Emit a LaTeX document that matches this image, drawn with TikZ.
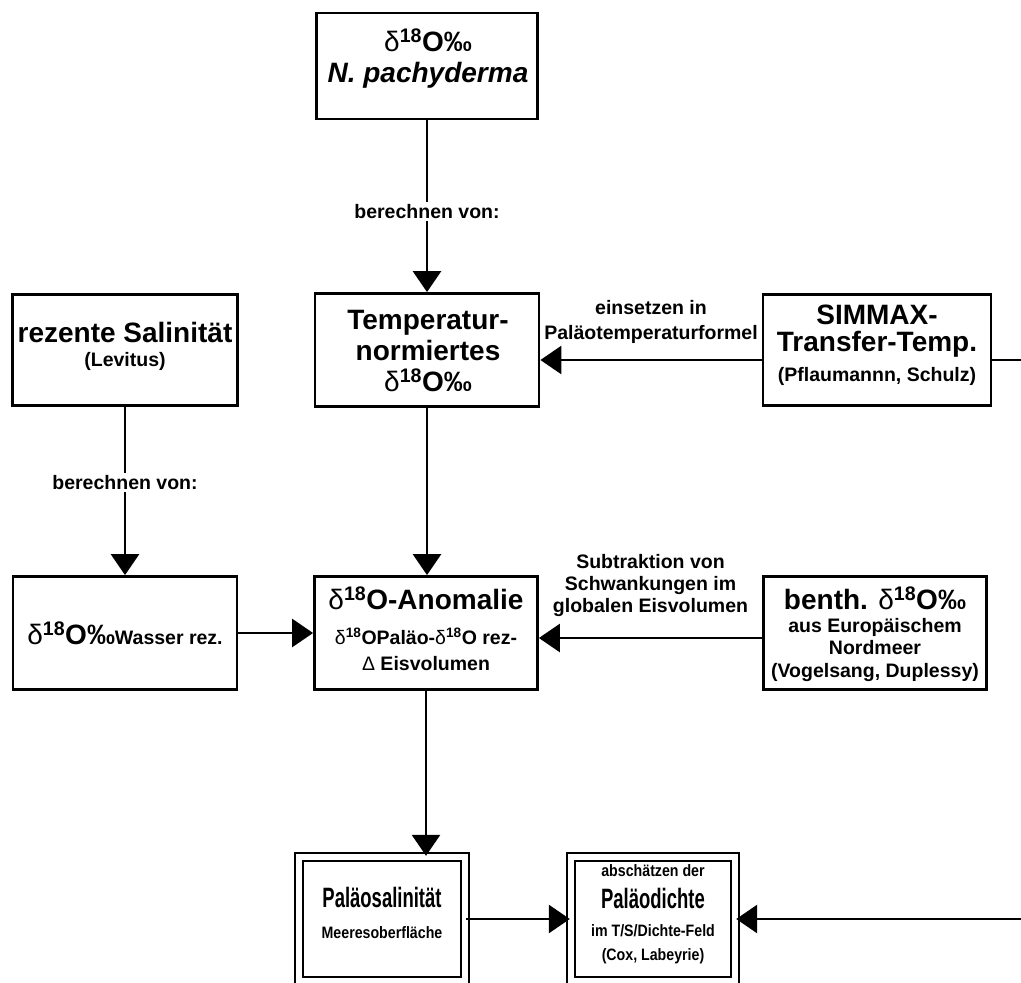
\documentclass[tikz,border=0pt]{standalone}
\usepackage{fontspec}
\setmainfont{Liberation Sans}
\newfontfamily\narrowfont{Liberation Sans}[FakeStretch=0.66]
\newfontfamily\semifont{Liberation Sans}[FakeStretch=0.86]
\usetikzlibrary{arrows.meta}

\newcommand{\titlesize}{\fontsize{28}{31}\selectfont}
\newcommand{\smallsize}{\fontsize{19.5}{22}\selectfont}
\newcommand{\deltaO}{{\mdseries δ}\textsuperscript{18}O}

\begin{document}
\begin{tikzpicture}[x=1pt, y=-1pt,
  box/.style={draw, line width=2.8pt, inner sep=0pt},
  dbox/.style={draw, line width=2.4pt, double, double distance=5.6pt, inner sep=0pt},
  txt/.style={align=center, font=\titlesize\bfseries, inner sep=0pt},
  lbl/.style={fill=white, font=\smallsize\bfseries, inner sep=2pt},
  lblm/.style={align=center, font=\smallsize\bfseries, inner sep=0pt},
  arr/.style={line width=2.8pt, -{Triangle[length=21pt, width=28pt]}},
  ]

\useasboundingbox (0,0) rectangle (1021,983);

% boxes
{
\node[box, minimum width=221pt, minimum height=106pt] (pach) at (427,66) {};
\node[box, minimum width=224pt, minimum height=113pt] (temp) at (427,350) {};
\node[box, minimum width=225pt, minimum height=111pt] (rez) at (125,350) {};
\node[box, minimum width=228pt, minimum height=111pt] (simmax) at (877,350) {};
\node[box, minimum width=224pt, minimum height=113pt] (wasser) at (125,633) {};
\node[box, minimum width=223pt, minimum height=113pt] (anom) at (426,633) {};
\node[box, minimum width=223pt, minimum height=113pt] (benth) at (875,633) {};

\node[dbox, minimum width=166pt, minimum height=124pt] (sal) at (382,919) {};
\node[dbox, minimum width=164pt, minimum height=124pt] (dichte) at (653,919) {};
}

% texts
{
\node[txt] (pach-t) at (428,59) {\deltaO‰\\ \textit{N. pachyderma}};
\node[txt] (temp-t) at (428,351) {Temperatur-\\normiertes\\ \deltaO‰};
\node[txt] (rez-t) at (125,346) {rezente Salinität\\[-7pt]{\smallsize (Levitus)}};
\node[txt] (simmax-t) at (877,345) {SIMMAX-\\[-4pt]Transfer-Temp.\\[-1pt]{\smallsize (Pflaumannn, Schulz)}};
\node[txt] (wasser-t) at (125,633) {\deltaO‰{\smallsize Wasser rez.}};
\node[txt] (anom-t) at (426,629) {\deltaO-Anomalie\\[4pt]{\smallsize \deltaO Paläo-\deltaO\ rez-}\\[-5pt]{\smallsize{\mdseries Δ} Eisvolumen}};
\node[txt] (benth-t) at (875,634) {benth. \deltaO‰\\[-8pt]{\smallsize aus Europäischem}\\[-9pt]{\smallsize Nordmeer}\\[-8pt]{\smallsize (Vogelsang, Duplessy)}};

\node[txt] (sal-t) at (382,913) {{\narrowfont Paläosalinität}\\[0pt]{\semifont\fontsize{16.5}{19}\selectfont Meeresoberfläche}};
\node[txt] (dichte-t) at (653,914) {{\semifont\fontsize{16.5}{19}\selectfont abschätzen der}\\[1pt]{\narrowfont Paläodichte}\\[-3pt]{\semifont\fontsize{16.5}{19}\selectfont im T/S/Dichte-Feld}\\[-7pt]{\semifont\fontsize{16.5}{19}\selectfont (Cox, Labeyrie)}};
}

% free ends at the right margin
\coordinate (simout) at (1021,360);
\coordinate (dichtein) at (1021,919);

% connectors
\draw[arr] (pach) -- node[lbl, pos=0.53] {berechnen von:} (temp);
\draw[arr] (rez) -- node[lbl, pos=0.45] {berechnen von:} (wasser);
\draw[arr] (temp.south) -- (temp.south |- anom.north);
\draw[arr] (wasser) -- (anom);
\draw[arr] (anom.south) -- (anom.south |- sal.north);

\draw[arr] ([yshift=-10pt]simmax.west) -- node[lblm, above=15pt, font=\fontsize{19.5}{25}\selectfont\bfseries] {einsetzen in\\Paläotemperaturformel} ([yshift=-10pt]simmax.west -| temp.east);
\draw[line width=2.8pt] ([yshift=-10pt]simmax.east) -- (simout);

\draw[arr] ([yshift=-5pt]benth.west) -- node[lblm, above=20pt] {Subtraktion von\\Schwankungen im\\globalen Eisvolumen} ([yshift=-5pt]benth.west -| anom.east);

\draw[arr] (sal) -- (dichte);
\draw[arr] (dichtein) -- (dichte.east);

\end{tikzpicture}
\end{document}
